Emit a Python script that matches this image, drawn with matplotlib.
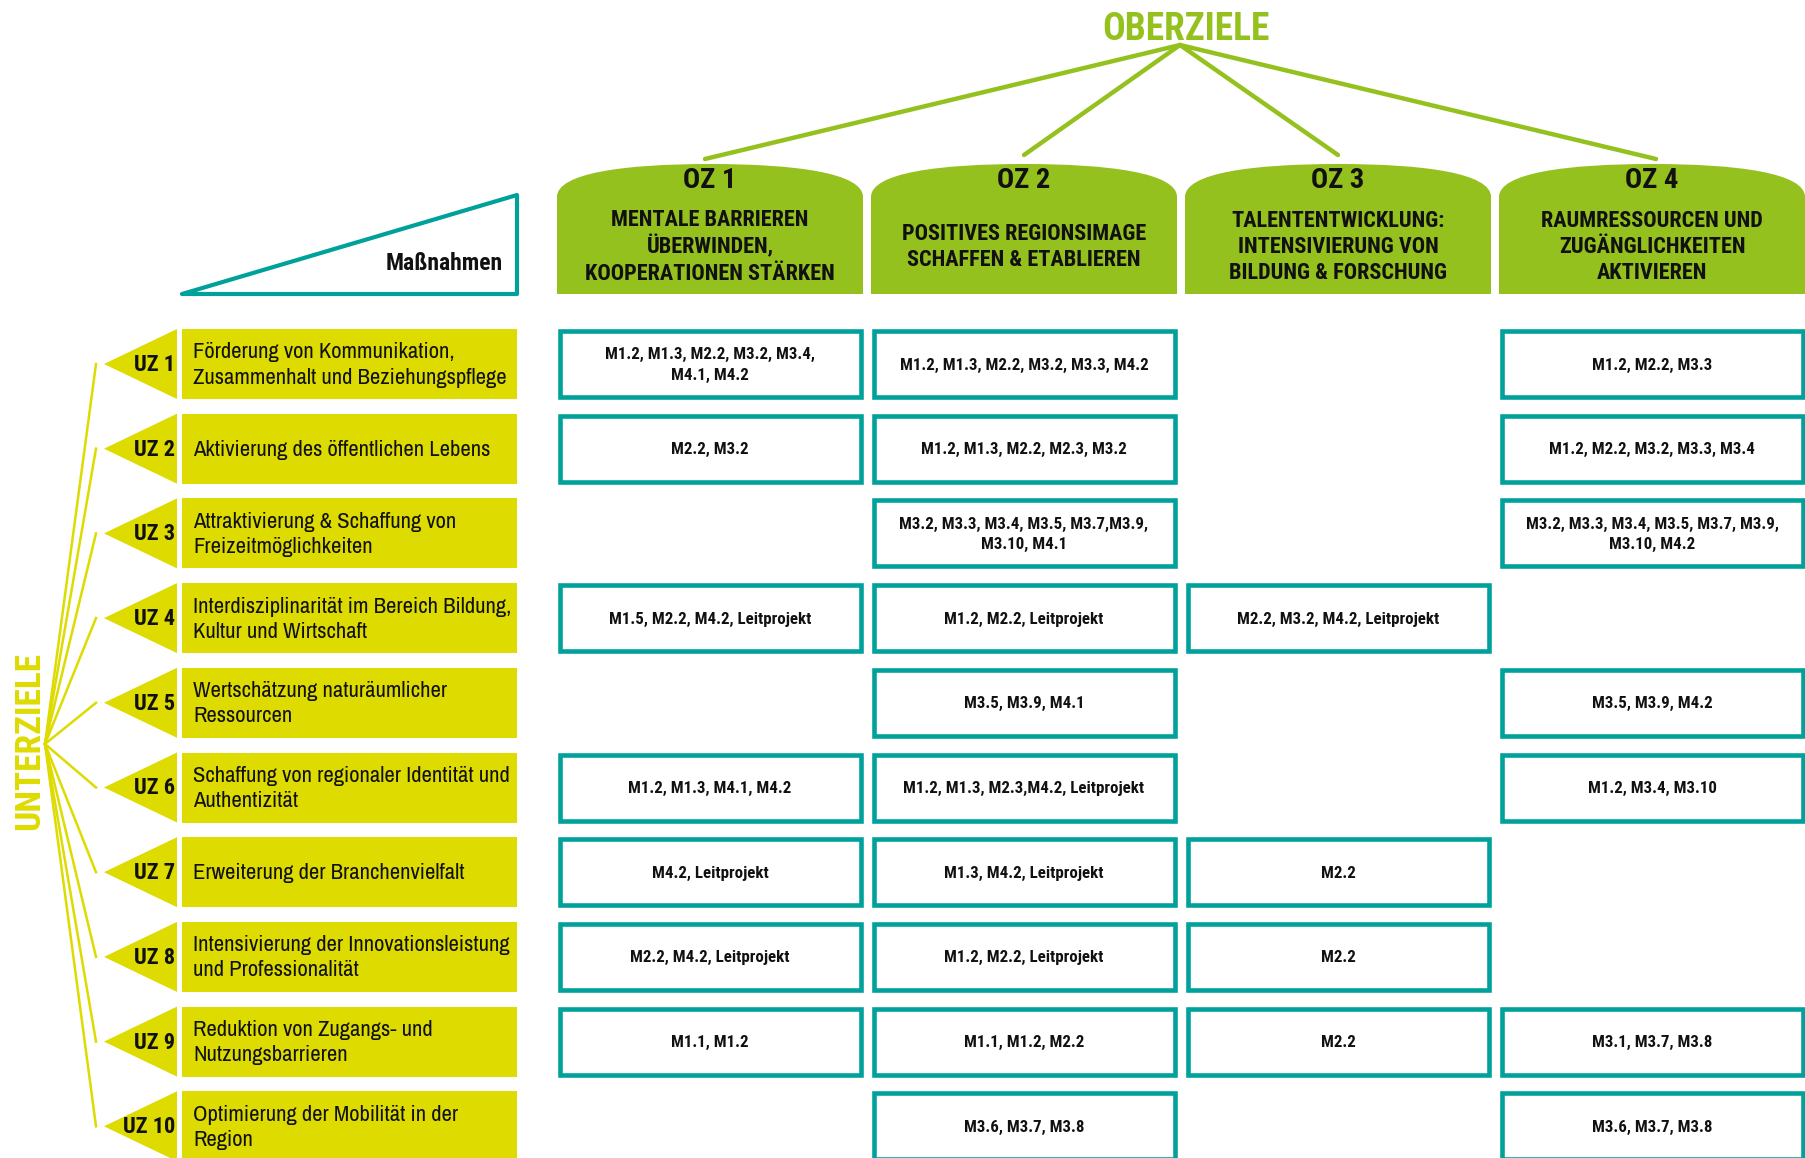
import matplotlib.pyplot as plt
from matplotlib.path import Path
from matplotlib.patches import PathPatch, Rectangle, Polygon

# ---- data ----
oz_titles = ["OZ 1", "OZ 2", "OZ 3", "OZ 4"]
oz_names = [
    "MENTALE BARRIEREN\nÜBERWINDEN,\nKOOPERATIONEN STÄRKEN",
    "POSITIVES REGIONSIMAGE\nSCHAFFEN & ETABLIEREN",
    "TALENTENTWICKLUNG:\nINTENSIVIERUNG VON\nBILDUNG & FORSCHUNG",
    "RAUMRESSOURCEN UND\nZUGÄNGLICHKEITEN\nAKTIVIEREN",
]
uz_labels = ["UZ 1", "UZ 2", "UZ 3", "UZ 4", "UZ 5",
             "UZ 6", "UZ 7", "UZ 8", "UZ 9", "UZ 10"]
uz_names = [
    "Förderung von Kommunikation,\nZusammenhalt und Beziehungspflege",
    "Aktivierung des öffentlichen Lebens",
    "Attraktivierung & Schaffung von\nFreizeitmöglichkeiten",
    "Interdisziplinarität im Bereich Bildung,\nKultur und Wirtschaft",
    "Wertschätzung naturäumlicher\nRessourcen",
    "Schaffung von regionaler Identität und\nAuthentizität",
    "Erweiterung der Branchenvielfalt",
    "Intensivierung der Innovationsleistung\nund Professionalität",
    "Reduktion von Zugangs- und\nNutzungsbarrieren",
    "Optimierung der Mobilität in der\nRegion",
]
# rows = UZ, columns = OZ ("" = no entry)
measures = [
    ["M1.2, M1.3, M2.2, M3.2, M3.4,\nM4.1, M4.2", "M1.2, M1.3, M2.2, M3.2, M3.3, M4.2", "", "M1.2, M2.2, M3.3"],
    ["M2.2, M3.2", "M1.2, M1.3, M2.2, M2.3, M3.2", "", "M1.2, M2.2, M3.2, M3.3, M3.4"],
    ["", "M3.2, M3.3, M3.4, M3.5, M3.7,M3.9,\nM3.10, M4.1", "", "M3.2, M3.3, M3.4, M3.5, M3.7, M3.9,\nM3.10, M4.2"],
    ["M1.5, M2.2, M4.2, Leitprojekt", "M1.2, M2.2, Leitprojekt", "M2.2, M3.2, M4.2, Leitprojekt", ""],
    ["", "M3.5, M3.9, M4.1", "", "M3.5, M3.9, M4.2"],
    ["M1.2, M1.3, M4.1, M4.2", "M1.2, M1.3, M2.3,M4.2, Leitprojekt", "", "M1.2, M3.4, M3.10"],
    ["M4.2, Leitprojekt", "M1.3, M4.2, Leitprojekt", "M2.2", ""],
    ["M2.2, M4.2, Leitprojekt", "M1.2, M2.2, Leitprojekt", "M2.2", ""],
    ["M1.1, M1.2", "M1.1, M1.2, M2.2", "M2.2", "M3.1, M3.7, M3.8"],
    ["", "M3.6, M3.7, M3.8", "", "M3.6, M3.7, M3.8"],
]

# ---- style / layout ----
GREEN = "#95C11F"
YELLOW = "#DDDB00"
TEAL = "#00A19A"
INK = "#111111"
BOLD_FONT = ["Roboto Condensed", "DejaVu Sans"]
REG_FONT = ["Archivo Narrow", "Roboto Condensed", "DejaVu Sans"]
plt.rcParams['font.family'] = BOLD_FONT

W, H = 1805, 1158
col_x0, col_w, col_pitch = 557, 306, 314
row_y0, row_h, row_pitch = 329, 70, 84.7
head_top, head_side, head_bot = 164, 197, 294

fig = plt.figure(figsize=(W / 100, H / 100), dpi=100)
ax = fig.add_axes([0, 0, 1, 1])
ax.set_xlim(0, W)
ax.set_ylim(H, 0)
ax.axis('off')

# OBERZIELE title + fan
top_origin = (1180, 45)
ax.text(1186, 29, "OBERZIELE", color=GREEN, fontsize=27, fontweight='bold',
        ha='center', va='center')
fan_ends = [(705, 159), (1024, 155), (1338, 155), (1656, 159)]
for ex, ey in fan_ends:
    ax.plot([top_origin[0], ex], [top_origin[1], ey], color=GREEN, lw=3.2,
            solid_capstyle='round')

# header domes
for j, (t, name) in enumerate(zip(oz_titles, oz_names)):
    x0 = col_x0 + j * col_pitch
    x1 = x0 + col_w
    xc = (x0 + x1) / 2
    verts = [(x0, head_bot), (x0, head_side),
             (x0, head_side - 24), (x0 + 0.22 * col_w, head_top), (xc, head_top),
             (x1 - 0.22 * col_w, head_top), (x1, head_side - 24), (x1, head_side),
             (x1, head_bot), (x0, head_bot)]
    codes = [Path.MOVETO, Path.LINETO,
             Path.CURVE4, Path.CURVE4, Path.CURVE4,
             Path.CURVE4, Path.CURVE4, Path.CURVE4,
             Path.LINETO, Path.CLOSEPOLY]
    ax.add_patch(PathPatch(Path(verts, codes), facecolor=GREEN, edgecolor='none'))
    ax.text(xc, 181, t, fontsize=20.5, fontweight='bold', color=INK,
            ha='center', va='center')
    ax.text(xc, 247, name, fontsize=16, fontweight='bold', color=INK,
            ha='center', va='center', linespacing=1.26)

# Maßnahmen triangle
ax.add_patch(Polygon([(182, 294), (517, 195), (517, 294)], closed=True,
                     facecolor='white', edgecolor=TEAL, lw=3, joinstyle='round'))
ax.text(503, 263, "Maßnahmen", fontsize=17, fontweight='bold', color=INK,
        ha='right', va='center')

# UNTERZIELE + fan
left_origin = (45, 744)
ax.text(30, 741, "UNTERZIELE", color=YELLOW, fontsize=25.5, fontweight='bold',
        rotation=90, ha='center', va='center')

tip_x, base_x, box_x0, box_x1 = 104, 177, 182, 517
for i, (lab, name) in enumerate(zip(uz_labels, uz_names)):
    top = row_y0 + i * row_pitch
    yc = top + row_h / 2
    ax.plot([left_origin[0], tip_x - 8], [left_origin[1], yc], color=YELLOW,
            lw=1.8)
    ax.add_patch(Polygon([(tip_x, yc), (base_x, top), (base_x, top + row_h)],
                         closed=True, facecolor=YELLOW, edgecolor='none'))
    ax.add_patch(Rectangle((box_x0, top), box_x1 - box_x0, row_h,
                           facecolor=YELLOW, edgecolor='none'))
    ax.text(175, yc + 1, lab, fontsize=16, fontweight='bold', color=INK,
            ha='right', va='center')
    ax.text(193, yc + 1, name, fontsize=16.3, color=INK, family=REG_FONT,
            ha='left', va='center', linespacing=1.32)

    for j, m in enumerate(measures[i]):
        if not m:
            continue
        x0 = col_x0 + j * col_pitch
        ax.add_patch(Rectangle((x0 + 2.5, top + 2), col_w - 5, row_h - 4,
                               facecolor='white', edgecolor=TEAL, lw=3.3))
        ax.text(x0 + col_w / 2, yc + 1, m, fontsize=12.2, fontweight='bold',
                color=INK, ha='center', va='center', linespacing=1.42)

fig.savefig("out.png", dpi=100)
